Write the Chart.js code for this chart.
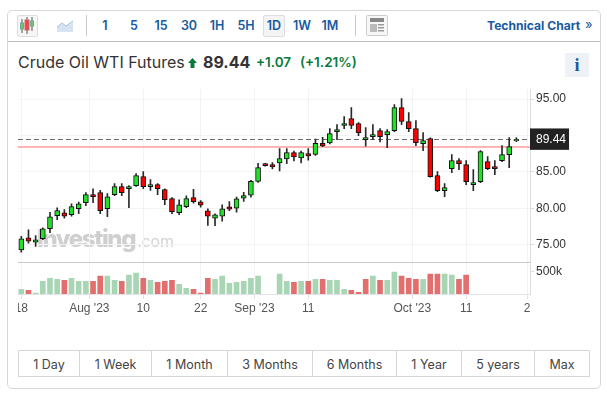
<!DOCTYPE html>
<html><head><meta charset="utf-8">
<style>
html,body{margin:0;padding:0;background:#fff;width:607px;height:395px;overflow:hidden;font-family:Inter,"Liberation Sans",sans-serif;color:#333}
.a{position:absolute;white-space:nowrap}
#card{left:7px;top:10px;width:592px;height:377px;border:1px solid #d8d8d8;border-radius:5px;box-sizing:content-box}
.tb{top:16px;height:19px;line-height:19px;font-size:12.5px;font-weight:600;color:#1a5a9e;text-align:center;width:28px}
.sep{width:1px;background:#c8c8c8;top:15px;height:21px}
.rng{top:350px;height:27px;line-height:27px;font-size:12.5px;color:#444;text-align:center;border:1px solid #d6d6d6;box-sizing:border-box}
#chartBox{position:absolute;left:18px;top:80px;width:572px;height:240px}
</style></head><body>
<div class="a" id="card"></div>
<div class="a" style="left:8px;top:41px;width:592px;height:1px;background:#bdbdbd"></div>
<div class="a" style="left:17px;top:15px;width:19px;height:20px;border:1px solid #ddd;border-radius:2px;background:#f6f6f6"></div>
<svg class="a" style="left:19px;top:16px" width="16" height="19" viewBox="0 0 16 19">
<g stroke="#555" stroke-width="1"><line x1="3" y1="3" x2="3" y2="17"/><line x1="8" y1="1" x2="8" y2="18"/><line x1="13" y1="1" x2="13" y2="15"/></g>
<rect x="1.500" y="7" width="3" height="6" fill="#7cc36b" stroke="#6a9"/><rect x="6" y="4" width="4" height="10" fill="#e44" stroke="#c66"/><rect x="11.500" y="5" width="3" height="5" fill="#7cc36b" stroke="#6a9"/></svg>
<svg class="a" style="left:57px;top:20px" width="17" height="13" viewBox="0 0 17 13"><path d="M0 7 L5 3 L9 6 L16 1 V12 H0Z" fill="#d7e3f2" stroke="none"/><path d="M0 7 L5 3 L9 6 L16 1" fill="none" stroke="#a9c0dc"/></svg>
<div class="a sep" style="left:86px"></div>
<div class="a tb" style="left:91px">1</div>
<div class="a tb" style="left:120px">5</div>
<div class="a tb" style="left:147px">15</div>
<div class="a tb" style="left:175px">30</div>
<div class="a tb" style="left:203px">1H</div>
<div class="a tb" style="left:232px">5H</div>
<div class="a" style="left:263px;top:15px;width:20px;height:20px;border:1px solid #ddd;border-radius:2px;background:#f4f4f4"></div>
<div class="a tb" style="left:260px">1D</div>
<div class="a tb" style="left:288px">1W</div>
<div class="a tb" style="left:316px">1M</div>
<div class="a sep" style="left:355px"></div>
<svg class="a" style="left:366px;top:15px" width="22" height="21" viewBox="0 0 22 21"><rect x="0.500" y="0.500" width="21" height="20" rx="1" fill="#f7f7f7" stroke="#ccc"/><rect x="4" y="3" width="14" height="4" fill="#888"/><rect x="4" y="9" width="7" height="8" fill="#bbb"/><rect x="12" y="9" width="6" height="1.500" fill="#999"/><rect x="12" y="12" width="6" height="1.500" fill="#999"/><rect x="12" y="15" width="6" height="1.500" fill="#999"/></svg>
<div class="a" style="left:487px;top:16px;height:19px;line-height:19px;font-size:12.100px;font-weight:700;color:#1a5a9e">Technical Chart</div>
<div class="a" style="left:585px;top:15px;height:19px;line-height:19px;font-size:13px;color:#1a5a9e">»</div>
<div class="a" style="left:18px;top:52px;height:21px;line-height:21px;font-size:16px;color:#333">Crude Oil WTI Futures</div>
<svg class="a" style="left:188px;top:58px" width="9" height="10" viewBox="0 0 9 10"><path d="M4.500 0 L9 5 H6.500 V10 H2.500 V5 H0Z" fill="#0a7a3c"/></svg>
<div class="a" style="left:203px;top:52px;height:21px;line-height:21px;font-size:16px;font-weight:700;color:#333">89.44</div>
<div class="a" style="left:256px;top:52px;height:21px;line-height:21px;font-size:13.500px;font-weight:600;color:#0a7a3c">+1.07</div>
<div class="a" style="left:300px;top:52px;height:21px;line-height:21px;font-size:13.500px;font-weight:600;color:#0a7a3c">(+1.21%)</div>
<div class="a" style="left:565px;top:53px;width:24px;height:24px;line-height:24px;background:#eef2f6;text-align:center;font-family:'Liberation Serif',serif;font-weight:700;font-size:18px;color:#1a5a9e">i</div>
<div class="a" style="left:37px;top:224px;font-size:24px;line-height:30px;font-weight:800;color:#cfcfcf;letter-spacing:-1.400px;filter:blur(.3px)">Investing<span style="font-size:16px;font-weight:400;color:#d4d4d4;letter-spacing:-.2px;margin-left:2px">.com</span></div>
<div id="chartBox"><canvas id="c" width="572" height="240"></canvas></div>
<div id="ranges"></div>
<script src="https://cdn.jsdelivr.net/npm/chart.js@4"></script>
<script>
const rangeLabels=['1 Day','1 Week','1 Month','3 Months','6 Months','1 Year','5 years','Max'];
const rangeEdges=[18,79,151,227,312,396,461,534,589];
const tickPositions=[0,9.48,17,25,32.5,40,54.5,62,70.5];
const tickLabels=['18',"Aug '23",'10','22',"Sep '23",'11',"Oct '23",'11','2'];
const lastPrice=89.44;
const prevClose=88.37;
const priceTicks=[75,80,85,prevClose,lastPrice,90,95];
const volumeTicks=[500000];
const opens=[74.31,75.96,75.37,75.83,77.2,78.99,79.4,79.13,79.95,80.78,81.88,82.16,79.95,81.88,82.98,82.7,83.12,84.36,82.98,83.26,82.57,81.33,79.4,80.23,81.47,80.9,79.65,78.64,78.92,80.21,80.02,81.41,81.82,83.71,86.15,86.01,86.24,86.8,87.67,86.94,87.53,87.4,88.92,88.99,90.55,91.38,92.34,91.65,89.45,89.86,90.69,90.14,90.69,93.85,91.93,90.96,88.9,89.59,84.5,82.43,85.46,86.56,86.01,83.26,83.67,86.42,85.73,86.56,87.39,89.31];
const closes=[75.83,75.5,75.69,77.2,78.85,79.68,78.94,80.23,80.64,81.88,81.6,79.68,81.6,82.98,82.16,82.98,84.5,82.98,83.26,82.7,81.19,79.54,80.5,81.33,80.92,80.44,78.92,79.1,79.93,79.88,81.31,81.77,83.71,85.6,85.88,85.69,86.84,87.67,87.07,87.67,87.21,88.92,88.59,90.28,90.83,91.65,91.38,90.41,89.72,90.14,89.86,90.55,93.85,91.93,90.96,89.04,89.31,84.36,82.43,82.84,86.56,86.15,83.67,83.53,87.8,85.46,85.46,87.39,88.49,89.44];
const highs=[76.15,77.06,76.28,77.34,79.45,80.09,79.82,80.64,80.87,82.16,82.7,82.48,82.02,83.39,83.39,83.12,84.77,85.05,83.94,83.39,82.7,81.47,81.19,81.74,82.6,81.08,79.93,79.24,80.48,80.94,81.54,82.19,83.85,86.2,86.2,86.29,88.23,88.23,87.86,87.86,88.23,89.52,89.75,90.96,91.51,92.61,93.85,91.79,91.1,91.51,90.96,90.83,94.27,95.09,93.17,92.06,90.41,89.7,85.05,83.39,87.39,86.83,86.56,85.32,87.94,87.11,86.56,88.62,89.72,89.72];
const lows=[73.99,75.23,74.77,75.69,76.65,78.44,78.67,78.94,79.27,80.37,80.78,79.27,78.85,81.74,81.74,80.09,83.03,82.7,82.48,81.88,80.5,79.27,79.13,80.09,80.7,80.16,77.67,77.63,78.23,79.7,79.47,80.94,81.54,83.57,85.8,85.41,85.14,86.15,86.52,86.24,86.61,87.26,88.46,88.85,89.45,90.96,90.96,90,88.53,89.45,89.13,88.35,90.55,91.51,90.55,88.62,87.94,84.3,82.29,81.6,84.91,85.32,83.26,82.43,83.53,85.32,84.63,86.42,85.6,89.17];
const volumes=[104,82,22,283,350,328,306,350,283,283,283,395,395,306,283,418,462,350,306,261,283,306,216,127,104,22,350,328,395,239,261,283,350,395,null,null,440,283,261,283,283,328,328,306,306,104,82,37,328,395,306,306,485,395,350,328,328,440,440,440,418,328,418,null,null,null,null,null,null,null];
const volumeUp=[1,0,1,1,1,1,0,1,1,1,0,0,1,1,0,1,1,0,1,0,0,0,1,1,0,0,0,1,1,1,1,1,1,1,0,0,1,1,0,1,0,1,0,1,1,1,0,0,0,1,0,1,1,0,0,0,1,0,0,1,1,0,0,0,0,0,0,0,0,0];

const box=document.getElementById('ranges');
rangeLabels.forEach((t,i)=>{const d=document.createElement('div');d.className='a rng';d.textContent=t;
 d.style.left=rangeEdges[i]+'px';d.style.width=(rangeEdges[i+1]-rangeEdges[i]+1)+'px';box.appendChild(d);});

const xs=opens.map((_,i)=>i);
const xMin=-0.46,xMax=70.9;
const FONT='"Liberation Sans",Arial,sans-serif';
const up=i=>closes[i]>=opens[i];
const tv=c=>c.tick?c.tick.value:null;
new Chart(document.getElementById('c'),{
 type:'bar',
 data:{datasets:[
  {label:'Body',order:1,yAxisID:'price',grouped:false,barThickness:5,borderWidth:1,borderColor:'#111',borderSkipped:false,
   backgroundColor:xs.map(i=>up(i)?'#22e02a':'#fa0000'),
   data:xs.map(i=>({x:i,y:[opens[i],closes[i]]}))},
  {label:'Wick',order:2,yAxisID:'price',grouped:false,barThickness:1,backgroundColor:'#2a2a2a',
   data:xs.map(i=>({x:i,y:[lows[i],highs[i]]}))},
  {label:'Volume',order:5,yAxisID:'vol',grouped:false,barThickness:5,
   backgroundColor:xs.map(i=>volumeUp[i]?'#a8d5b4':'#e26e6e'),
   data:xs.map(i=>({x:i,y:volumes[i]===null?null:volumes[i]*1000}))}
 ]},
 options:{responsive:false,animation:false,
  layout:{padding:{left:0,right:0,top:8,bottom:0}},
  plugins:{legend:{display:false},tooltip:{enabled:false}},
  scales:{
   x:{type:'linear',offset:false,min:xMin,max:xMax,
    afterBuildTicks(s){s.ticks=tickPositions.map(v=>({value:v}));},
    afterFit(s){s.paddingLeft=0;s.paddingRight=0;s.height=26;},
    ticks:{autoSkip:false,maxRotation:0,padding:2,color:'#555',font:{family:FONT,size:12},callback:(v,i)=>tickLabels[i]},
    grid:{offset:false,color:'#f3f3f6',tickLength:5,tickColor:'#e2e2e6'},
    border:{color:'#e2e2e8'}},
   price:{type:'linear',position:'right',stack:'p',stackWeight:174.5,min:72.54,max:96.37,
    afterBuildTicks(s){s.ticks=priceTicks.map(v=>({value:v}));},
    afterFit(s){s.width=60;},
    ticks:{autoSkip:false,padding:2,font:{family:FONT,size:12},
     color:c=>tv(c)===lastPrice?'#fff':'#333',
     showLabelBackdrop:c=>tv(c)===lastPrice,
     backdropColor:'#222',backdropPadding:{left:6,right:3,top:4,bottom:3},
     callback:v=>(v===90||v===prevClose)?'':v.toFixed(2)},
    grid:{color:c=>tv(c)===lastPrice?'#6e6e6e':tv(c)===prevClose?'#ffb4b4':'#f3f3f6',lineWidth:c=>tv(c)===prevClose?2:1,tickLength:4,
     tickColor:c=>(tv(c)===lastPrice||tv(c)===prevClose||tv(c)===90)?'transparent':'#dcdce2'},
    border:{color:'#dcdce2',dash:c=>tv(c)===lastPrice?[5,3]:[]}},
   vol:{type:'linear',position:'right',stack:'p',stackWeight:31.5,min:0,max:695000,
    afterBuildTicks(s){s.ticks=[...volumeTicks,s.max].map(v=>({value:v}));},
    afterFit(s){s.width=60;},
    ticks:{autoSkip:false,padding:2,color:'#333',font:{family:FONT,size:12},callback:v=>v===500000?'500k':''},
    grid:{color:c=>tv(c)===695000?'#c9c9c9':'transparent',tickLength:4,tickColor:c=>tv(c)===695000?'transparent':'#dcdce2'},
    border:{color:'#dcdce2'}}
  }}
});
</script>
</body></html>
